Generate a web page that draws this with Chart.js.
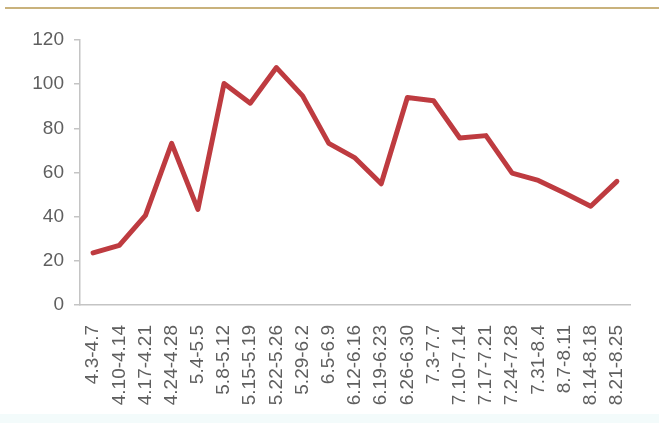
<!DOCTYPE html>
<html>
<head>
<meta charset="utf-8">
<script src="https://cdn.jsdelivr.net/npm/chart.js@4/dist/chart.umd.min.js"></script>
<style>
  html, body { margin: 0; padding: 0; background: #ffffff; }
  #wrap { position: relative; width: 659px; height: 423px; overflow: hidden; background: #ffffff; }
  #topline { position: absolute; left: 5px; right: 0; top: 7px; height: 2px; background: #c9b27c; }
  #bottomtint { position: absolute; left: 0; right: 0; top: 414px; bottom: 0; background: #f3fbfb; }
  canvas { position: absolute; left: 0; top: 0; }
</style>
</head>
<body>
<div id="wrap">
  <div id="topline"></div>
  <div id="bottomtint"></div>
  <canvas id="c" width="659" height="423"></canvas>
</div>
<script>
const categories = ["4.3-4.7","4.10-4.14","4.17-4.21","4.24-4.28","5.4-5.5","5.8-5.12","5.15-5.19","5.22-5.26","5.29-6.2","6.5-6.9","6.12-6.16","6.19-6.23","6.26-6.30","7.3-7.7","7.10-7.14","7.17-7.21","7.24-7.28","7.31-8.4","8.7-8.11","8.14-8.18","8.21-8.25"];
const seriesValues = [23.6,27,40.6,73.2,43.3,100.3,91.4,107.5,94.7,73.2,66.6,54.9,94,92.5,75.6,76.7,59.7,56.4,50.7,44.7,56];
const yTickValues = [0,20,40,60,80,100,120];

const tickColor = '#5f5f5f';
const axisColor = '#c4c4c4';

new Chart(document.getElementById('c'), {
  type: 'line',
  data: {
    labels: categories,
    datasets: [{
      data: seriesValues,
      borderColor: '#be3b40',
      borderWidth: 5,
      pointRadius: 0,
      tension: 0,
      borderJoinStyle: 'round',
      borderCapStyle: 'round',
      fill: false
    }]
  },
  options: {
    responsive: false,
    animation: false,
    plugins: { legend: { display: false }, tooltip: { enabled: false } },
    layout: { padding: { top: 40, right: 29, left: 0, bottom: 0 } },
    scales: {
      x: {
        offset: true,
        grid: { display: false },
        border: { display: true, color: axisColor, width: 1.5 },
        ticks: {
          color: tickColor,
          font: { family: 'Liberation Sans', size: 19 },
          minRotation: 90,
          maxRotation: 90,
          autoSkip: false,
          padding: 12
        },
        afterFit: (s) => { s.height = 118; }
      },
      y: {
        min: 0,
        max: 120,
        afterBuildTicks: (s) => { s.ticks = yTickValues.map(v => ({ value: v })); },
        grid: { display: true, drawOnChartArea: false, drawTicks: true, tickLength: 6, color: axisColor, lineWidth: 1.5 },
        border: { display: true, color: axisColor, width: 1.5 },
        ticks: {
          color: tickColor,
          font: { family: 'Liberation Sans', size: 19 },
          padding: 10
        },
        afterFit: (s) => { s.width = 80; }
      }
    }
  }
});
</script>
</body>
</html>
